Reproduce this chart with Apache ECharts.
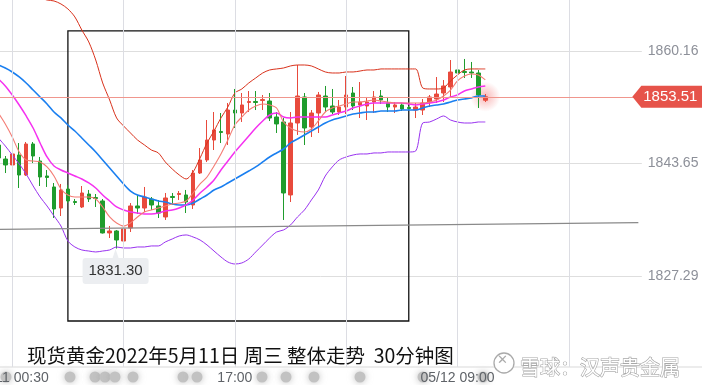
<!DOCTYPE html>
<html><head><meta charset="utf-8">
<script src="https://cdn.jsdelivr.net/npm/echarts@6/dist/echarts.min.js"></script>
<style>html,body{margin:0;padding:0;background:#fff}#c{width:702px;height:385px}</style>
</head><body><div id="c"></div>
<script>
// ---- data ----
const slotCount = 93; // 30-minute slots shown on the time axis (candles + empty space on the right)
const categories = Array.from({length: slotCount}, (_, i) => String(i));
const xTickLabels = {2: '05/11 00:30', 34: '17:00', 66: '05/12 09:00'};
const vGridIdx = [2, 18, 34, 50, 66, 82];

// y axis: tick values and the labels printed at them
const yMin = 1810.82, yMax = 1867.67, yInterval = 16.462;
const yTickValues = [1827.28, 1843.74, 1860.21];
const yTickLabels = ['1827.29', '1843.65', '1860.16'];
const axisFloor = 1813.97;

// candles: [open, close, low, high]
const candleData = [
[1846.45,1844.55,1843.53,1847.18],[1844.40,1843.53,1842.35,1844.84],[1843.53,1845.14,1841.77,1847.62],
[1844.99,1842.06,1840.16,1846.74],[1842.06,1846.60,1841.92,1846.89],[1846.60,1844.84,1843.82,1846.89],
[1844.11,1841.77,1840.45,1844.70],[1841.92,1841.70,1840.31,1842.79],[1840.31,1837.09,1835.77,1840.89],
[1837.23,1839.87,1836.06,1840.75],[1840.01,1838.26,1837.96,1840.60],[1838.18,1838.04,1837.67,1838.55],
[1837.38,1839.43,1837.23,1840.45],[1839.28,1838.55,1838.11,1839.87],[1838.77,1838.62,1837.38,1839.28],
[1838.26,1833.58,1833.50,1838.55],[1833.58,1833.87,1832.84,1834.60],[1833.87,1832.55,1831.30,1834.01],
[1832.40,1834.16,1831.97,1834.45],[1834.31,1837.53,1833.72,1837.96],[1837.53,1837.23,1836.36,1839.14],
[1837.23,1838.84,1836.65,1840.31],[1838.55,1837.67,1836.94,1838.84],[1837.53,1836.50,1835.77,1838.40],
[1835.92,1838.70,1835.48,1839.43],[1838.92,1838.77,1837.67,1839.43],[1839.21,1839.36,1838.40,1839.72],
[1839.14,1838.11,1836.50,1839.87],[1837.67,1842.35,1837.09,1842.79],[1842.35,1844.26,1842.21,1846.01],
[1844.26,1847.18,1843.96,1850.11],[1847.18,1848.65,1845.72,1851.28],[1848.43,1848.28,1846.74,1851.13],
[1848.06,1851.57,1846.45,1852.60],[1851.57,1851.13,1848.94,1854.65],[1851.13,1852.31,1849.82,1854.06],
[1852.67,1852.82,1851.28,1854.35],[1852.82,1852.67,1851.57,1854.35],[1852.96,1853.11,1851.57,1853.77],
[1852.89,1850.40,1849.96,1854.06],[1850.55,1849.53,1848.21,1851.28],[1849.82,1839.43,1835.48,1850.40],
[1839.14,1849.67,1838.11,1851.28],[1849.67,1853.62,1847.92,1858.16],[1853.48,1848.94,1846.45,1854.06],
[1849.09,1851.13,1847.62,1851.57],[1851.13,1853.77,1848.21,1854.21],[1853.62,1852.01,1851.28,1855.09],
[1852.16,1851.28,1850.99,1854.65],[1851.28,1852.01,1850.84,1853.04],[1852.01,1853.77,1850.99,1856.55],
[1854.06,1852.16,1851.57,1854.94],[1852.31,1852.74,1850.40,1855.67],[1852.16,1852.74,1850.11,1853.48],
[1852.74,1853.48,1851.13,1854.35],[1853.62,1853.04,1852.45,1854.50],[1852.60,1852.01,1851.28,1853.48],
[1852.01,1852.31,1851.13,1852.74],[1852.31,1851.72,1851.43,1852.60],[1851.94,1851.79,1851.57,1852.16],
[1851.57,1852.01,1850.40,1852.60],[1851.57,1852.60,1850.84,1853.18],[1852.74,1853.48,1852.01,1853.77],
[1853.18,1853.91,1852.60,1856.40],[1854.06,1855.09,1852.74,1855.96],[1854.94,1857.13,1853.48,1858.89],
[1857.43,1856.99,1853.91,1859.04],[1857.21,1857.06,1856.26,1859.04],[1857.13,1856.99,1856.26,1858.60],
[1856.99,1853.77,1851.87,1857.43],[1853.00,1853.51,1852.74,1853.91]
];

const bollUpper = [1869.14,1868.84,1868.55,1868.40,1868.26,1868.11,1867.97,1867.67,1867.53,1867.09,
1866.36,1865.19,1863.28,1861.53,1858.89,1855.53,1853.04,1850.41,1849.24,1848.21,
1847.19,1846.46,1845.72,1845.29,1843.97,1842.94,1842.07,1841.48,1842.50,1844.55,
1846.75,1848.50,1850.41,1852.02,1854.06,1854.65,1855.53,1856.26,1856.99,1857.43,
1857.58,1857.72,1858.02,1858.16,1858.16,1858.02,1857.58,1857.14,1856.99,1856.99,
1857.14,1857.14,1857.28,1857.43,1857.43,1857.58,1857.58,1857.58,1857.58,1857.58,
1857.58,1854.80,1854.65,1854.65,1854.80,1855.82,1856.70,1857.43,1857.58,1857.58,1857.58];

const bollLower = [1847.48,1846.31,1844.99,1843.68,1842.21,1840.46,1838.85,1837.53,1836.07,1834.60,
1832.41,1831.53,1831.09,1830.94,1830.80,1830.94,1831.09,1831.53,1831.38,1831.38,
1831.53,1831.53,1831.68,1831.68,1832.26,1832.70,1833.14,1833.29,1832.99,1832.55,
1831.82,1830.94,1830.07,1829.33,1829.04,1829.19,1829.77,1830.80,1831.82,1832.85,
1833.72,1834.02,1834.75,1835.92,1836.94,1838.41,1839.87,1841.92,1843.24,1844.26,
1844.70,1844.99,1845.14,1845.14,1845.29,1845.29,1845.43,1845.43,1845.43,1845.43,
1845.58,1849.67,1849.82,1850.26,1850.70,1850.11,1849.82,1849.67,1849.67,1849.82,1849.82];

const ma20 = [1858.16,1857.72,1857.14,1856.41,1855.53,1854.50,1853.48,1852.46,1851.28,1850.41,
1849.38,1848.50,1847.48,1846.46,1845.43,1844.26,1843.09,1841.92,1840.75,1839.72,
1839.14,1838.85,1838.55,1838.26,1838.11,1837.82,1837.68,1837.68,1837.97,1838.55,
1839.14,1839.87,1840.31,1840.90,1841.48,1842.07,1842.65,1843.24,1843.97,1844.70,
1845.29,1845.87,1846.75,1847.33,1847.92,1848.50,1849.09,1849.67,1850.11,1850.41,
1850.70,1850.99,1851.14,1851.28,1851.28,1851.43,1851.43,1851.43,1851.58,1851.58,
1851.58,1851.87,1852.16,1852.31,1852.46,1852.75,1853.04,1853.19,1853.33,1853.63,1853.63];

const ma10 = [1856.11,1855.09,1853.77,1852.31,1850.70,1848.94,1846.75,1844.70,1843.38,1842.80,
1842.36,1841.92,1841.48,1840.90,1840.16,1839.14,1838.26,1837.38,1836.94,1836.65,
1836.50,1836.36,1836.36,1836.50,1836.80,1836.94,1837.24,1837.68,1838.41,1839.43,
1840.31,1841.33,1842.80,1844.11,1845.43,1846.60,1847.77,1848.94,1849.97,1850.84,
1851.14,1850.55,1850.41,1850.55,1850.55,1850.55,1850.55,1850.55,1850.84,1851.14,
1851.43,1851.87,1852.16,1852.46,1852.60,1852.60,1852.60,1852.60,1852.60,1852.46,
1852.31,1852.46,1852.60,1852.75,1853.04,1853.48,1853.77,1854.36,1854.65,1854.94,1855.09];

const ma5 = [1851.14,1849.53,1847.63,1845.43,1844.26,1844.11,1843.97,1843.24,1841.92,1840.02,
1839.14,1838.85,1838.85,1838.85,1838.55,1837.38,1835.92,1835.04,1834.60,1835.04,
1835.92,1836.65,1836.94,1837.24,1837.53,1837.82,1837.97,1838.26,1839.43,1840.75,
1841.77,1843.38,1845.14,1847.19,1849.38,1850.55,1851.58,1852.16,1852.46,1852.31,
1851.87,1849.82,1848.94,1848.50,1848.36,1848.80,1849.97,1851.28,1851.87,1852.16,
1852.46,1852.75,1852.75,1852.89,1853.04,1852.89,1852.75,1852.60,1852.60,1852.60,
1852.60,1852.60,1852.75,1853.04,1853.63,1854.50,1855.82,1856.55,1856.85,1856.70,1855.97];

const lastIndex = 70, lastPrice = 1853.51;
const lowIndex = 17, lowPrice = 1831.30;
const trendLine = {fromIdx: 0, fromVal: 1834.09, toIdx: 92, toVal: 1835.09};
const boxRange = {fromIdx: 10, toIdx: 59, top: 1863.14, bottom: 1820.70};
const titleText = '现货黄金2022年5月11日 周三 整体走势  30分钟图';
const watermarkText = '雪球：汉声贵金属';

// ---- chart ----
const chart = echarts.init(document.getElementById('c'), null, {renderer: 'canvas'});
const UP = '#e84a3c', DOWN = '#1f9c2d';
const dots = [6, 70, 95, 105, 115, 133, 183, 197, 262, 286, 314, 360, 423, 483];

const option = {
  animation: false,
  backgroundColor: '#ffffff',
  title: [
    {text: titleText, left: 27, top: 346, padding: 0,
     textStyle: {fontSize: 19.5, fontWeight: 'normal', color: '#111', fontFamily: 'Noto Sans CJK SC'}},
    {text: watermarkText, left: 520, top: 357, padding: 0,
     textStyle: {fontSize: 20, fontWeight: 'normal', color: '#ffffff', textBorderColor: '#a8a8a8', textBorderWidth: 1.2, fontFamily: 'Noto Sans CJK SC'}}
  ],
  graphic: [
    {type: 'line', shape: {x1: 0, y1: 367, x2: 702, y2: 367}, style: {stroke: '#d9d9d9', lineWidth: 1}, z: 0},
    {type: 'circle', shape: {cx: 504, cy: 363, r: 10}, style: {fill: '#fff', stroke: '#aaa', lineWidth: 1.3}, z: 0},
    {type: 'text', left: 497, top: 354, style: {text: '✕', fill: '#aaa', font: '13px DejaVu Sans'}, z: 0}
  ].concat(dots.map(x => ({type: 'circle', shape: {cx: x, cy: 377, r: 5.5}, style: {fill: '#c2c2c2', shadowBlur: 7, shadowColor: 'rgba(150,150,150,0.6)'}, z: -1}))),
  grid: {left: -5.14, right: 60.18, top: 0, bottom: -3.5, containLabel: false, outerBoundsMode: 'none'},
  xAxis: {
    type: 'category', data: categories, boundaryGap: true, offset: -21.5,
    axisLine: {show: false}, axisTick: {show: false}, splitLine: {show: false},
    axisLabel: {interval: 0, margin: 4, color: '#5f6368', fontSize: 14, fontFamily: 'Liberation Sans',
      formatter: (v, i) => xTickLabels[i] || ''}
  },
  yAxis: {
    type: 'value', position: 'right', min: yMin, max: yMax, interval: yInterval,
    axisLine: {show: false}, axisTick: {show: false},
    splitLine: {show: true, showMinLine: false, showMaxLine: false, lineStyle: {color: '#dedede', width: 1}},
    axisLabel: {margin: 6, color: '#8d9099', fontSize: 14, fontFamily: 'Liberation Sans',
      formatter: v => {
        for (let k = 0; k < yTickValues.length; k++) if (Math.abs(v - yTickValues[k]) < 0.3) return yTickLabels[k];
        return '';
      }}
  },
  series: [
    {type: 'line', name: 'guides', data: [], z: 1, silent: true,
     markLine: {silent: true, symbol: ['none', 'none'], label: {show: false}, animation: false,
       lineStyle: {color: '#dcdde3', width: 1, type: 'solid'},
       data: vGridIdx.map(i => [{coord: [i, yMax]}, {coord: [i, axisFloor]}]).concat([
         [{coord: [trendLine.fromIdx, trendLine.fromVal], lineStyle: {color: '#8a8a8a', width: 1.2, type: 'solid'}},
          {coord: [trendLine.toIdx, trendLine.toVal]}]
       ])}},
    {type: 'scatter', name: 'glow', data: [[lastIndex, lastPrice]], symbolSize: 30, z: 2, silent: true,
     itemStyle: {color: new echarts.graphic.RadialGradient(0.5, 0.5, 0.5, [
       {offset: 0, color: 'rgba(240,90,90,0.55)'}, {offset: 1, color: 'rgba(240,90,90,0)'}])}},
    {type: 'candlestick', name: 'K', data: candleData, barWidth: 4, z: 3, clip: false,
     itemStyle: {color: UP, color0: DOWN, borderColor: UP, borderColor0: DOWN, borderWidth: 1},
     markLine: {silent: true, symbol: ['none', 'none'], label: {show: false},
       lineStyle: {color: '#f0968d', width: 1, type: 'solid'}, data: [{yAxis: lastPrice}]},
     markArea: {silent: true, itemStyle: {color: 'rgba(0,0,0,0)', borderColor: '#111', borderWidth: 1.3},
       data: [[{coord: [boxRange.fromIdx, boxRange.top]}, {coord: [boxRange.toIdx, boxRange.bottom]}]]},
     markPoint: {silent: true, data: [
       {coord: [slotCount - 1, lastPrice], value: lastPrice,
        symbol: 'path://M0,11 L9,0 L70,0 L70,22 L9,22 Z', symbolSize: [70, 22], symbolKeepAspect: false,
        symbolOffset: [29, 0], itemStyle: {color: '#e6534a'},
        label: {show: true, position: 'inside', offset: [3, 0], formatter: lastPrice.toFixed(2), color: '#fff',
                fontSize: 15, fontFamily: 'Liberation Sans'}},
       {coord: [lowIndex, lowPrice], value: lowPrice,
        symbol: 'path://M3,9 L30,9 L33,0 L36,9 L63,9 Q66,9 66,12 L66,32 Q66,35 63,35 L3,35 Q0,35 0,32 L0,12 Q0,9 3,9 Z',
        symbolSize: [66, 35], symbolKeepAspect: false, symbolOffset: [-1, 18], itemStyle: {color: '#eceef1'},
        label: {show: true, position: 'inside', offset: [0, 4], formatter: lowPrice.toFixed(2), color: '#333',
                fontSize: 15, fontFamily: 'Liberation Sans'}}
     ]}},
    {type: 'line', name: 'BOLL UP', data: bollUpper, showSymbol: false, symbol: 'none', smooth: 0.3, z: 4, silent: true,
     lineStyle: {color: '#d9321c', width: 1}},
    {type: 'line', name: 'BOLL DN', data: bollLower, showSymbol: false, symbol: 'none', smooth: 0.3, z: 4, silent: true,
     lineStyle: {color: '#9932f0', width: 1}},
    {type: 'line', name: 'MA20', data: ma20, showSymbol: false, symbol: 'none', smooth: 0.3, z: 4, silent: true,
     lineStyle: {color: '#1a7ff0', width: 1.6}},
    {type: 'line', name: 'MA10', data: ma10, showSymbol: false, symbol: 'none', smooth: 0.3, z: 4, silent: true,
     lineStyle: {color: '#f531f0', width: 1.5}},
    {type: 'line', name: 'MA5', data: ma5, showSymbol: false, symbol: 'none', smooth: 0.3, z: 4, silent: true,
     lineStyle: {color: '#f47c74', width: 1.1}}
  ]
};
chart.setOption(option);
</script>
</body></html>
